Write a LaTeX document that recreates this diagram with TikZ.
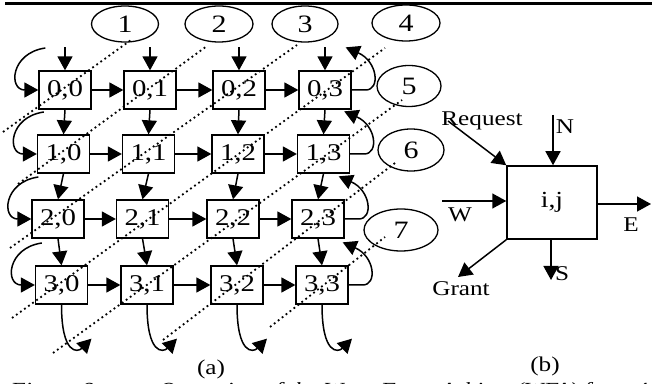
\documentclass[tikz,border=0pt]{standalone}
\usepackage{fontspec}
\setmainfont[FakeStretch=1.2]{Liberation Serif}
\usetikzlibrary{arrows.meta,calc,shapes.geometric}
\tikzset{
	cell/.style={draw, line width=0.65pt, minimum width=26pt, minimum height=19pt, inner sep=0pt, font=\fontsize{12}{13}\selectfont},
	arb/.style={draw, line width=0.75pt, minimum width=45pt, minimum height=36.5pt, inner sep=0pt, font=\fontsize{11.5}{12}\selectfont},
	numell/.style={draw, ellipse, line width=0.65pt, inner sep=0pt, font=\fontsize{12.5}{13}\selectfont},
	lbl/.style={inner sep=0pt, font=\fontsize{10.5}{12}\selectfont},
	link/.style={line width=0.75pt, -{Triangle[length=7pt,width=7.5pt]}},
	wave/.style={line width=0.9pt, dash pattern=on 0.9pt off 1.6pt}
}

\begin{document}
\begin{tikzpicture}[x=0.5pt, y=-0.5pt]
		%%%%% START %%%%%
		\useasboundingbox (0,0) rectangle (652,384);
		
		\draw[line width=1.6pt] (5,3.3) -- (652,3.3);
		
		\node[cell] (b00) at (65,90) {0,0};
		\node[cell] (b01) at (150,90) {0,1};
		\node[cell] (b02) at (239,90) {0,2};
		\node[cell] (b03) at (325,90) {0,3};
		\node[cell] (b10) at (63.5,154) {1,0};
		\node[cell] (b11) at (148.5,154) {1,1};
		\node[cell] (b12) at (238,154) {1,2};
		\node[cell] (b13) at (323.5,154) {1,3};
		\node[cell] (b20) at (58,219) {2,0};
		\node[cell] (b21) at (142.5,219) {2,1};
		\node[cell] (b22) at (233,219) {2,2};
		\node[cell] (b23) at (318,219) {2,3};
		\node[cell] (b30) at (61.5,285) {3,0};
		\node[cell] (b31) at (147,285) {3,1};
		\node[cell] (b32) at (237,285) {3,2};
		\node[cell] (b33) at (322,285) {3,3};
		
		% east links
		\draw[link] (b00.east) -- (b01.west);
		\draw[link] (b01.east) -- (b02.west);
		\draw[link] (b02.east) -- (b03.west);
		\draw[link] (b10.east) -- (b11.west);
		\draw[link] (b11.east) -- (b12.west);
		\draw[link] (b12.east) -- (b13.west);
		\draw[link] (b20.east) -- (b21.west);
		\draw[link] (b21.east) -- (b22.west);
		\draw[link] (b22.east) -- (b23.west);
		\draw[link] (b30.east) -- (b31.west);
		\draw[link] (b31.east) -- (b32.west);
		\draw[link] (b32.east) -- (b33.west);
		
		% south links
		\draw[link] ($(b00.north)+(0,-23)$) -- (b00.north);
		\draw[link] ($(b01.north)+(0,-23)$) -- (b01.north);
		\draw[link] ($(b02.north)+(0,-23)$) -- (b02.north);
		\draw[link] ($(b03.north)+(0,-23)$) -- (b03.north);
		\draw[link] (b00.south) -- (b10.north);
		\draw[link] (b01.south) -- (b11.north);
		\draw[link] (b02.south) -- (b12.north);
		\draw[link] (b03.south) -- (b13.north);
		\draw[link] (b10.south) -- (b20.north);
		\draw[link] (b11.south) -- (b21.north);
		\draw[link] (b12.south) -- (b22.north);
		\draw[link] (b13.south) -- (b23.north);
		\draw[link] (b20.south) -- (b30.north);
		\draw[link] (b21.south) -- (b31.north);
		\draw[link] (b22.south) -- (b32.north);
		\draw[link] (b23.south) -- (b33.north);
		
		% wrap-around on the left
		\draw[link] ($(b00.west)+(7,-42)$) .. controls +(-35,5) and +(-30,0) .. (b00.west);
		\draw[link] ($(b10.west)+(7,-42)$) .. controls +(-35,5) and +(-30,0) .. (b10.west);
		\draw[link] ($(b20.west)+(7,-42)$) .. controls +(-35,5) and +(-30,0) .. (b20.west);
		\draw[link] ($(b30.west)+(7,-42)$) .. controls +(-35,5) and +(-30,0) .. (b30.west);
		
		% wrap-around on the right
		\draw[link] (b03.east) -- ++(14,0) .. controls +(15,0) and +(32,14) .. ($(b03.north east)+(-6,-23)$);
		\draw[link] (b13.east) -- ++(14,0) .. controls +(15,0) and +(32,14) .. ($(b13.north east)+(-6,-23)$);
		\draw[link] (b23.east) -- ++(14,0) .. controls +(15,0) and +(32,14) .. ($(b23.north east)+(-6,-23)$);
		\draw[link] (b33.east) -- ++(14,0) .. controls +(15,0) and +(32,14) .. ($(b33.north east)+(-6,-23)$);
		
		% wrap-around at the bottom
		\draw[link] (b30.south) .. controls +(0,50) and +(-14,14) .. ($(b30.south)+(30,34)$);
		\draw[link] (b31.south) .. controls +(0,50) and +(-14,14) .. ($(b31.south)+(30,34)$);
		\draw[link] (b32.south) .. controls +(0,50) and +(-14,14) .. ($(b32.south)+(30,34)$);
		\draw[link] (b33.south) .. controls +(0,50) and +(-14,14) .. ($(b33.south)+(30,34)$);
		
		% waves
		\node[numell, minimum width=33.5pt, minimum height=18pt] (e1) at (125,24) {1};
		\node[numell, minimum width=34pt, minimum height=18pt] (e2) at (219,24) {2};
		\node[numell, minimum width=33pt, minimum height=18pt] (e3) at (305,24) {3};
		\node[numell, minimum width=34pt, minimum height=18pt] (e4) at (406,23) {4};
		\node[numell, minimum width=32pt, minimum height=20.5pt] (e5) at (409,86) {5};
		\node[numell, minimum width=33pt, minimum height=21pt] (e6) at (411,150) {6};
		\node[numell, minimum width=37pt, minimum height=21pt] (e7) at (401,230) {7};
		
		\coordinate (w1) at (3,132);
		\coordinate (w2) at (18,184);
		\coordinate (w3) at (10,248);
		\coordinate (w4) at (12,318);
		\coordinate (w5) at (53,353);
		\coordinate (w6) at (163,340);
		\coordinate (w7) at (270,327);
		\draw[wave] (w1) -- ($(e1)+(6,16)$);
		\draw[wave] (w2) -- ($(e2)+(-12,22)$);
		\draw[wave] (w3) -- ($(e3)+(-8,21)$);
		\draw[wave] (w4) -- ($(e4)+(-21,25)$);
		\draw[wave] (w5) -- ($(e5)+(-7,14)$);
		\draw[wave] (w6) -- ($(e6)+(-16,13)$);
		\draw[wave] (w7) -- ($(e7)+(-16,7)$);
		
		% one arbiter cell
		\node[arb] (bij) at (552,202.5) {i,j};
		\node[lbl] (req) at (482,121) {Request};
		\node[lbl] (nlab) at (565,127) {N};
		\node[lbl] (wlab) at (460,215) {W};
		\node[lbl] (elab) at (631,225) {E};
		\node[lbl] (slab) at (562,274) {S};
		\node[lbl] (glab) at (461,289) {Grant};
		\coordinate (nin) at (553,115);
		\coordinate (win) at (442,201);
		\coordinate (eout) at (651,204);
		\coordinate (sout) at (551,280);
		\coordinate (gout) at (458,277);
		\draw[link] ($(req.west)+(7,0)$) -- (bij.north west);
		\draw[link] (nin) -- (nin |- bij.north);
		\draw[link] (win) -- (win -| bij.west);
		\draw[link] (bij.east |- eout) -- (eout);
		\draw[link] (sout |- bij.south) -- (sout);
		\draw[link] (bij.south west) -- (gout);
		
		\node[lbl] (suba) at (211,369) {(a)};
		\node[lbl] (subb) at (545,366) {(b)};
		\node[lbl, anchor=base west, font=\fontsize{10}{12}\selectfont\itshape] (cap) at (10,396) {Figure 6.\hspace{30pt}Operation of the Wave Front Arbiter (WFA) for a 4};
		
		%%%%% END %%%%%
	\end{tikzpicture}
\end{document}
